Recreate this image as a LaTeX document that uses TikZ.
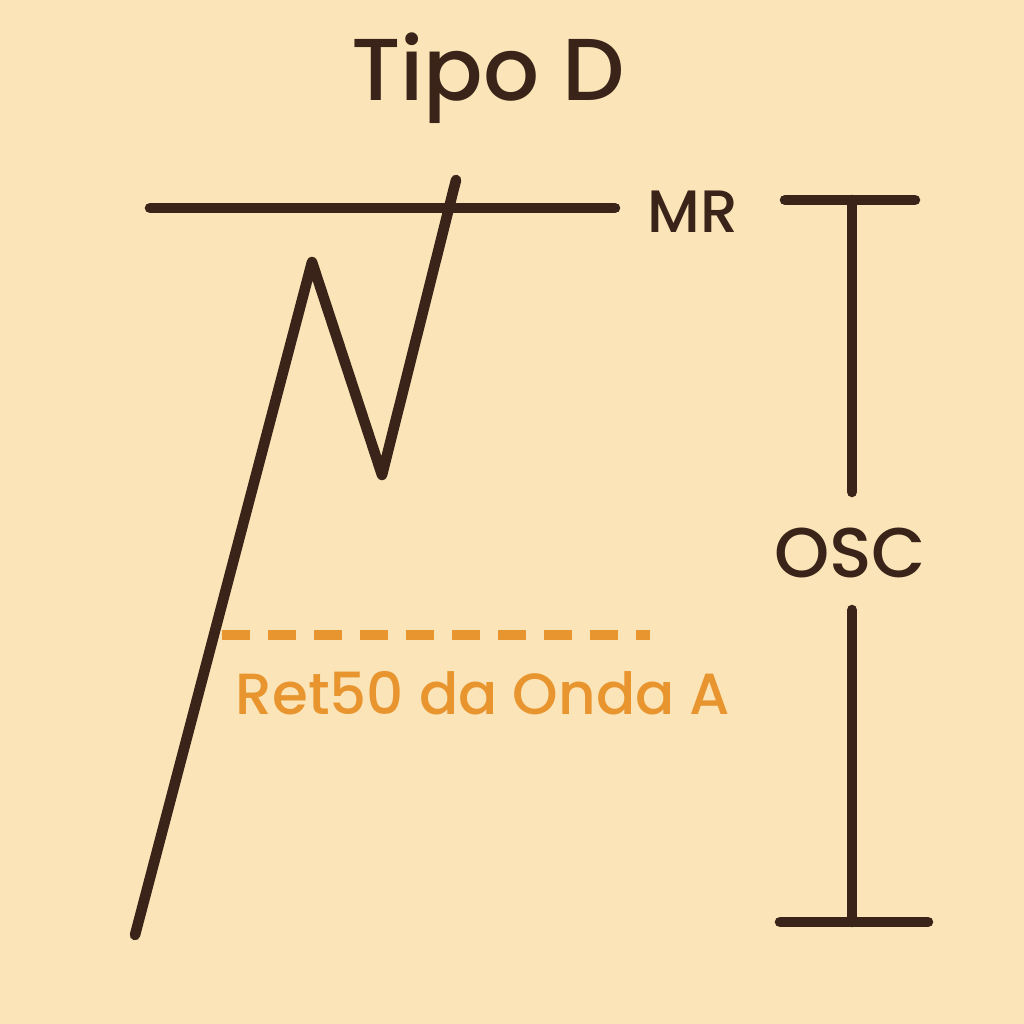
\documentclass[tikz,border=0pt]{standalone}
\usepackage{fontspec}
\setmainfont{Poppins}[BoldFont={Poppins Medium}]
\definecolor{bg}{HTML}{FBE5B8}
\definecolor{ink}{HTML}{3A2318}
\definecolor{org}{HTML}{E8952F}
\begin{document}
\begin{tikzpicture}[x=0.01cm,y=-0.01cm,
  ln/.style={draw=ink,line width=3pt,line cap=round,line join=round},
  lbl/.style={text=ink,font=\fontsize{17}{20}\selectfont\bfseries,inner sep=0}]
\fill[bg] (0,0) rectangle (1024,1024);
\useasboundingbox (0,0) rectangle (1024,1024);
\node[text=ink,font=\fontsize{25}{30}\selectfont\bfseries] (title) at (488,78) {Tipo D};
\coordinate (mr1) at (150,208); \coordinate (mr2) at (615,208);
\draw[ln] (mr1) -- (mr2);
\node[lbl] (mr) at (693,212) {MR};
\coordinate (z0) at (135,935); \coordinate (z1) at (312,262);
\coordinate (z2) at (382,475); \coordinate (z3) at (456,180);
\draw[ln] (z0) -- (z1) -- (z2) -- (z3);
\coordinate (ot1) at (785,200); \coordinate (ot2) at (915,200);
\coordinate (ov1) at (852,200); \coordinate (ov2) at (852,492);
\coordinate (ov3) at (852,610); \coordinate (ov4) at (852,922);
\coordinate (ob1) at (780,922); \coordinate (ob2) at (928,922);
\draw[ln] (ot1) -- (ot2); \draw[ln] (ov1) -- (ov2);
\draw[ln] (ov3) -- (ov4); \draw[ln] (ob1) -- (ob2);
\node[lbl,font=\fontsize{20}{24}\selectfont\bfseries] (osc) at (850,553) {OSC};
\coordinate (d1) at (222,635); \coordinate (d2) at (650,635);
\draw[draw=org,line width=2.8pt,dash pattern=on 0.28cm off 0.18cm] (d1) -- (d2);
\node[text=org,font=\fontsize{16.5}{20}\selectfont\bfseries,inner sep=0] (ret) at (483,693) {Ret50 da Onda A};
\end{tikzpicture}
\end{document}
